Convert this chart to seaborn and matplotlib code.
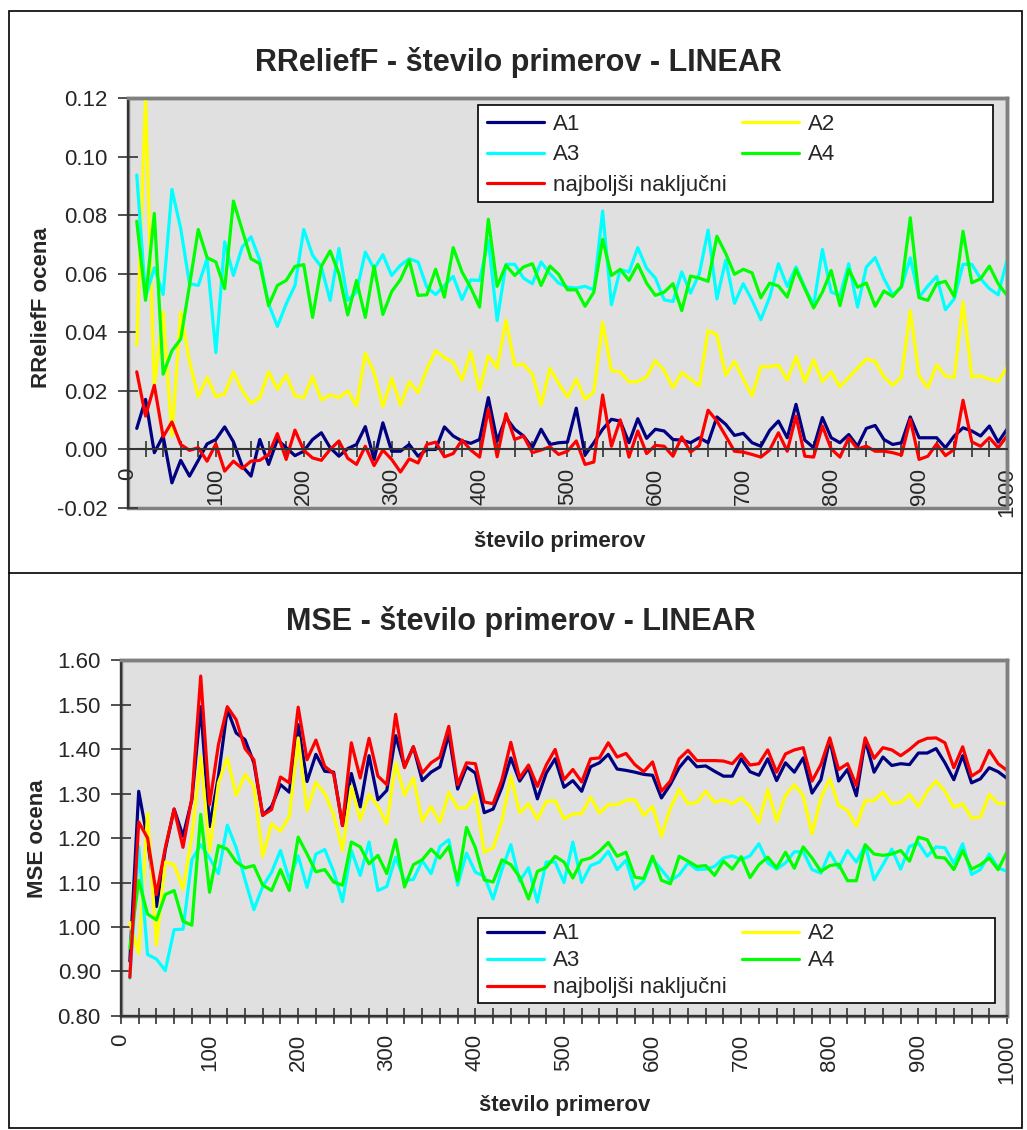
import numpy as np
import pandas as pd
import matplotlib
matplotlib.use("Agg")
import matplotlib.pyplot as plt
import seaborn as sns
from matplotlib.lines import Line2D
from matplotlib.patches import Rectangle

# sample sizes (x axis)
n_primerov = np.arange(10, 1001, 10)

names = ["A1", "A2", "A3", "A4", "najboljši naključni"]
colors = ["#000080", "#ffff00", "#00ffff", "#00ff00", "#ff0000"]

# --- RReliefF estimates ---
rr_a1 = [0.0072, 0.0171, -0.0011, 0.0046, -0.0114, -0.0037, -0.0091, -0.0037, 0.0019, 0.0034,
         0.0077, 0.0026, -0.0057, -0.0091, 0.0034, -0.0051, 0.0034, 0.0006, -0.0021, -0.0006,
         0.0034, 0.0057, 0.0006, -0.0023, 0.0003,
         0.0017, 0.0078, -0.0034, 0.0091, -0.0006, -0.0006, 0.0017, -0.0023, 0.0, 0.0,
         0.0077, 0.0046, 0.0029, 0.0021, 0.0034, 0.0177, 0.0029, 0.0109, 0.0069, 0.0046,
         0.0006, 0.0069, 0.0017, 0.0023, 0.0025,
         0.0141, -0.0019, 0.0023, 0.0069, 0.0103, 0.0097, 0.0023, 0.0105, 0.0038, 0.0069,
         0.0063, 0.0034, 0.0032, 0.0023, 0.004, 0.0023, 0.0111, 0.0086, 0.0048, 0.0055,
         0.0023, 0.0011, 0.0065, 0.0097, 0.004,
         0.0154, 0.0032, 0.0006, 0.0109, 0.004, 0.0023, 0.0051, 0.0011, 0.0072, 0.0082,
         0.0034, 0.0017, 0.0023, 0.0111, 0.004, 0.004, 0.004, 0.0006, 0.0046, 0.0074,
         0.0063, 0.0046, 0.008, 0.0025, 0.0069]
rr_a2 = [0.0357, 0.1194, 0.0217, 0.047, 0.0046, 0.047, 0.030, 0.018, 0.0246, 0.018,
         0.019, 0.0265, 0.020, 0.0158, 0.0177, 0.0265, 0.0206, 0.0254, 0.0183, 0.0177,
         0.0249, 0.0169, 0.0186, 0.0177, 0.020,
         0.0149, 0.0328, 0.0263, 0.0146, 0.0243, 0.0151, 0.0231, 0.0194, 0.0274, 0.0337,
         0.0314, 0.0297, 0.0237, 0.0334, 0.0202, 0.032, 0.0277, 0.0442, 0.0288, 0.0291,
         0.0257, 0.0151, 0.0277, 0.0226, 0.0179,
         0.024, 0.0171, 0.0197, 0.0434, 0.0269, 0.0265, 0.0231, 0.0232, 0.0248, 0.0303,
         0.0269, 0.0211, 0.0263, 0.024, 0.0217, 0.0406, 0.0391, 0.0254, 0.0301, 0.024,
         0.0183, 0.0283, 0.0282, 0.0288, 0.0237,
         0.0317, 0.0231, 0.0306, 0.0232, 0.0265, 0.0214, 0.0246, 0.0277, 0.0309, 0.0301,
         0.0248, 0.0219, 0.0248, 0.0474, 0.0251, 0.0211, 0.0289, 0.0251, 0.0246, 0.0503,
         0.0248, 0.0251, 0.024, 0.0232, 0.028]
rr_a3 = [0.0937, 0.052, 0.062, 0.0529, 0.0888, 0.0754, 0.0566, 0.056, 0.0651, 0.0331,
         0.0709, 0.0594, 0.0691, 0.0726, 0.0646, 0.0497, 0.042, 0.0497, 0.056, 0.0751,
         0.0663, 0.0623, 0.0509, 0.0686, 0.0509,
         0.0537, 0.0674, 0.0617, 0.0665, 0.0594, 0.0629, 0.0651, 0.064, 0.0554, 0.0529,
         0.056, 0.0591, 0.0512, 0.0579, 0.0577, 0.0714, 0.044, 0.0632, 0.0632, 0.0585,
         0.0566, 0.064, 0.06, 0.0568, 0.0554,
         0.0551, 0.0557, 0.0545, 0.0814, 0.0494, 0.0614, 0.0606, 0.0689, 0.0619, 0.0585,
         0.0511, 0.0505, 0.0606, 0.0534, 0.06, 0.0749, 0.0514, 0.0646, 0.0499, 0.0566,
         0.0509, 0.0443, 0.052, 0.0634, 0.0557,
         0.0623, 0.0554, 0.0491, 0.0683, 0.0537, 0.0526, 0.0634, 0.0486, 0.0623, 0.0655,
         0.0583, 0.0528, 0.0554, 0.0654, 0.052, 0.0558, 0.0591, 0.0477, 0.0514, 0.0632,
         0.0632, 0.0583, 0.0549, 0.0528, 0.0646]
rr_a4 = [0.0779, 0.0509, 0.0806, 0.0257, 0.0337, 0.0377, 0.056, 0.0751, 0.0655, 0.064,
         0.0549, 0.0848, 0.0749, 0.0651, 0.0634, 0.0491, 0.056, 0.0577, 0.0625, 0.0631,
         0.0451, 0.0625, 0.0678, 0.06, 0.0459,
         0.0577, 0.0451, 0.0626, 0.0461, 0.0539, 0.058, 0.0646, 0.0526, 0.0528, 0.0615,
         0.052, 0.0689, 0.0606, 0.0552, 0.0486, 0.0786, 0.0557, 0.0629, 0.0594, 0.0623,
         0.0634, 0.056, 0.0626, 0.0598, 0.0545,
         0.0545, 0.0489, 0.0537, 0.0717, 0.0594, 0.0615, 0.0577, 0.0632, 0.0568, 0.0526,
         0.0537, 0.0566, 0.0474, 0.0592, 0.0585, 0.0574, 0.0728, 0.0669, 0.0598, 0.0615,
         0.0603, 0.0518, 0.0568, 0.0558, 0.052,
         0.0614, 0.0549, 0.0483, 0.0537, 0.0611, 0.0491, 0.0615, 0.0554, 0.0568, 0.0489,
         0.0541, 0.0522, 0.0557, 0.0791, 0.0518, 0.0509, 0.0566, 0.0574, 0.0522, 0.0745,
         0.0569, 0.0583, 0.0626, 0.0566, 0.0526]
rr_rand = [0.0265, 0.0114, 0.0219, 0.0043, 0.0094, 0.0017, -0.0003, 0.0006, -0.004, 0.0019,
           -0.0074, -0.004, -0.0065, -0.004, -0.0037, -0.0017, 0.0054, -0.0034, 0.0066, -0.0003,
           -0.0029, -0.0037, 0.0, 0.0029, -0.003,
           -0.0051, 0.0011, -0.0055, -0.0002, -0.0034, -0.0077, -0.0032, -0.0046, 0.0017, 0.0025,
           -0.0025, -0.0014, 0.0032, -0.0002, -0.0026, 0.0139, -0.0025, 0.0122, 0.0034, 0.0046,
           -0.0011, -0.0002, 0.0009, -0.0017, -0.0006,
           0.0029, -0.0051, -0.0043, 0.0186, 0.0011, 0.0101, -0.0026, 0.0063, -0.0014, 0.0014,
           0.0011, -0.0023, 0.0043, -0.0009, 0.0014, 0.0134, 0.0097, 0.0046, -0.0006, -0.0009,
           -0.0017, -0.0026, -0.0002, 0.0057, -0.0006,
           0.0114, -0.0023, -0.0026, 0.008, 0.0002, -0.0026, 0.004, 0.0002, 0.0011, -0.0006,
           -0.0006, -0.0011, -0.0019, 0.0103, -0.0034, -0.0023, 0.0019, -0.0021, 0.0, 0.0168,
           0.0026, 0.0011, 0.004, 0.0006, 0.0046]

# --- MSE ---
mse_a1 = [0.923, 1.305, 1.196, 1.046, 1.174, 1.265, 1.204, 1.286, 1.495, 1.226,
          1.339, 1.489, 1.436, 1.421, 1.369, 1.251, 1.271, 1.320, 1.303, 1.455,
          1.327, 1.388, 1.350, 1.348, 1.228,
          1.345, 1.270, 1.385, 1.286, 1.307, 1.430, 1.360, 1.405, 1.329, 1.348,
          1.360, 1.433, 1.310, 1.360, 1.346, 1.257, 1.265, 1.314, 1.380, 1.328,
          1.358, 1.288, 1.346, 1.378, 1.314,
          1.329, 1.305, 1.360, 1.369, 1.388, 1.355, 1.352, 1.348, 1.343, 1.341,
          1.290, 1.320, 1.358, 1.382, 1.360, 1.362, 1.350, 1.339, 1.339, 1.378,
          1.349, 1.341, 1.378, 1.329, 1.369,
          1.348, 1.380, 1.301, 1.331, 1.421, 1.328, 1.354, 1.295, 1.420, 1.348,
          1.382, 1.363, 1.367, 1.365, 1.391, 1.391, 1.401, 1.369, 1.331, 1.385,
          1.324, 1.333, 1.358, 1.349, 1.334]
mse_a2 = [1.010, 0.941, 1.255, 0.960, 1.146, 1.140, 1.085, 1.204, 1.384, 1.170,
          1.324, 1.380, 1.296, 1.343, 1.316, 1.159, 1.232, 1.215, 1.249, 1.425,
          1.262, 1.325, 1.300, 1.253, 1.172,
          1.316, 1.241, 1.298, 1.271, 1.232, 1.369, 1.296, 1.335, 1.238, 1.271,
          1.235, 1.303, 1.267, 1.269, 1.298, 1.168, 1.178, 1.238, 1.339, 1.257,
          1.277, 1.242, 1.282, 1.284, 1.243,
          1.254, 1.255, 1.292, 1.256, 1.275, 1.275, 1.285, 1.286, 1.251, 1.271,
          1.204, 1.267, 1.309, 1.277, 1.280, 1.305, 1.280, 1.286, 1.277, 1.290,
          1.271, 1.235, 1.309, 1.238, 1.296,
          1.320, 1.295, 1.209, 1.290, 1.333, 1.273, 1.262, 1.227, 1.284, 1.284,
          1.303, 1.277, 1.280, 1.298, 1.271, 1.305, 1.328, 1.305, 1.269, 1.277,
          1.245, 1.247, 1.298, 1.277, 1.278]
mse_a3 = [0.885, 1.181, 0.938, 0.928, 0.902, 0.994, 0.995, 1.151, 1.185, 1.155,
          1.120, 1.229, 1.178, 1.106, 1.039, 1.091, 1.123, 1.172, 1.106, 1.160,
          1.089, 1.164, 1.174, 1.125, 1.057,
          1.172, 1.116, 1.191, 1.082, 1.091, 1.157, 1.104, 1.107, 1.149, 1.120,
          1.181, 1.196, 1.094, 1.166, 1.123, 1.114, 1.063, 1.129, 1.185, 1.103,
          1.133, 1.056, 1.146, 1.146, 1.100,
          1.191, 1.100, 1.138, 1.146, 1.170, 1.129, 1.150, 1.085, 1.104, 1.153,
          1.129, 1.104, 1.117, 1.144, 1.129, 1.130, 1.136, 1.155, 1.160, 1.151,
          1.160, 1.187, 1.144, 1.130, 1.144,
          1.169, 1.169, 1.129, 1.121, 1.168, 1.133, 1.172, 1.146, 1.184, 1.106,
          1.140, 1.175, 1.130, 1.181, 1.189, 1.159, 1.180, 1.178, 1.143, 1.187,
          1.118, 1.129, 1.164, 1.133, 1.125]
mse_a4 = [0.953, 1.105, 1.029, 1.016, 1.073, 1.082, 1.013, 1.004, 1.253, 1.078,
          1.183, 1.175, 1.146, 1.133, 1.138, 1.094, 1.082, 1.129, 1.082, 1.202,
          1.164, 1.124, 1.129, 1.101, 1.094,
          1.191, 1.180, 1.142, 1.161, 1.120, 1.196, 1.090, 1.140, 1.151, 1.175,
          1.155, 1.181, 1.104, 1.224, 1.178, 1.106, 1.101, 1.151, 1.140, 1.112,
          1.063, 1.125, 1.134, 1.159, 1.146,
          1.110, 1.150, 1.155, 1.170, 1.190, 1.159, 1.168, 1.112, 1.109, 1.159,
          1.105, 1.097, 1.159, 1.148, 1.136, 1.138, 1.116, 1.148, 1.130, 1.158,
          1.111, 1.140, 1.157, 1.133, 1.168,
          1.132, 1.180, 1.155, 1.125, 1.138, 1.141, 1.104, 1.104, 1.185, 1.164,
          1.161, 1.164, 1.172, 1.148, 1.202, 1.196, 1.157, 1.155, 1.129, 1.172,
          1.130, 1.140, 1.155, 1.129, 1.169]
mse_rand = [0.887, 1.236, 1.200, 1.073, 1.178, 1.265, 1.179, 1.290, 1.564, 1.275,
            1.410, 1.495, 1.466, 1.401, 1.376, 1.251, 1.264, 1.337, 1.324, 1.494,
            1.376, 1.420, 1.361, 1.345, 1.228,
            1.414, 1.335, 1.424, 1.339, 1.320, 1.478, 1.358, 1.405, 1.346, 1.369,
            1.382, 1.451, 1.320, 1.369, 1.367, 1.281, 1.277, 1.331, 1.415, 1.335,
            1.364, 1.316, 1.364, 1.399, 1.331,
            1.354, 1.326, 1.378, 1.380, 1.414, 1.382, 1.390, 1.365, 1.349, 1.371,
            1.305, 1.328, 1.378, 1.397, 1.374, 1.374, 1.374, 1.373, 1.367, 1.389,
            1.364, 1.367, 1.398, 1.348, 1.389,
            1.398, 1.403, 1.328, 1.365, 1.425, 1.354, 1.367, 1.318, 1.425, 1.379,
            1.403, 1.398, 1.385, 1.399, 1.416, 1.424, 1.425, 1.414, 1.358, 1.405,
            1.339, 1.352, 1.397, 1.367, 1.352]

sns.set_style("white")
plt.rcParams["font.family"] = ["Liberation Sans", "DejaVu Sans"]

fig = plt.figure(figsize=(10.27, 11.30), dpi=100)
ax1 = fig.add_axes([0.1246, 0.5504, 0.8559, 0.3629])
ax2 = fig.add_axes([0.1178, 0.1009, 0.8627, 0.3150])


def draw(ax, series, ylim, yticks, yfmt):
    df = pd.DataFrame({"n": n_primerov})
    for name, vals in zip(names, series):
        df[name] = vals
    df = df.melt(id_vars="n", var_name="serija", value_name="ocena")
    ax.set_facecolor("#e0e0e0")
    sns.lineplot(data=df, x="n", y="ocena", hue="serija", hue_order=names,
                 palette=colors, linewidth=2.3, ax=ax, legend=False)
    ax.set_xlim(0, 1000)
    ax.set_ylim(*ylim)
    ax.set_xticks(np.arange(0, 1001, 100))
    ax.set_xticks(np.arange(0, 1001, 20), minor=True)
    ax.set_yticks(yticks)
    ax.set_yticklabels([yfmt.format(v) for v in yticks])
    ax.tick_params(axis="x", which="both", direction="inout", length=12, width=1.2,
                   color="#333333", labelsize=16, labelrotation=90, pad=7, bottom=True)
    ax.tick_params(axis="y", which="both", direction="inout", length=15, width=1.2,
                   color="#333333", labelsize=16, pad=7, left=True)
    ax.set_xlabel("")
    ax.set_ylabel("")
    for s in ["top", "right"]:
        ax.spines[s].set_color("#808080")
        ax.spines[s].set_linewidth(2.5)
    ax.spines["left"].set_color("#333333")
    ax.spines["left"].set_linewidth(1.5)
    ax.spines["bottom"].set_color("#333333")
    ax.spines["bottom"].set_linewidth(1.5)
    ax.add_patch(Rectangle((0, 0), 1, 1, transform=ax.transAxes, fill=False,
                           edgecolor="#808080", linewidth=2.5, zorder=0.5, clip_on=False))


draw(ax1, [rr_a1, rr_a2, rr_a3, rr_a4, rr_rand], (-0.02, 0.12),
     np.arange(-0.02, 0.121, 0.02), "{:.2f}")
ax1.spines["bottom"].set_position(("data", 0))

draw(ax2, [mse_a1, mse_a2, mse_a3, mse_a4, mse_rand], (0.80, 1.60),
     np.arange(0.80, 1.601, 0.10), "{:.2f}")

# legends: two columns, A1/A2, A3/A4, random; frame drawn separately
order = [0, 2, 4, 1, 3]
handles = [Line2D([0], [0], color=colors[i], lw=2.3) for i in order]
labels = [names[i] for i in order]
for ax, box, yc, sp in [(ax1, (0.398, 0.746, 0.586, 0.237), 0.861, 0.42),
                        (ax2, (0.403, 0.037, 0.583, 0.238), 0.1545, 0.27)]:
    ax.add_patch(Rectangle(box[:2], box[2], box[3], transform=ax.transAxes,
                           facecolor="white", edgecolor="black", linewidth=1.2,
                           zorder=4.5))
    ax.legend(handles, labels, ncol=2, loc="center left", bbox_to_anchor=(box[0], yc),
              fontsize=16, frameon=False, handlelength=2.57, handletextpad=0.4,
              columnspacing=0.7, labelspacing=sp, borderaxespad=0, borderpad=0.4)

# titles and axis labels
fig.text(0.505, 0.945, "RReliefF - število primerov - LINEAR", ha="center", va="center",
         fontsize=22, fontweight="bold")
fig.text(0.545, 0.521, "število primerov", ha="center", va="center",
         fontsize=16, fontweight="bold")
fig.text(0.040, 0.728, "RReliefF ocena", ha="center", va="center", rotation=90,
         fontsize=16, fontweight="bold")

fig.text(0.507, 0.4496, "MSE - število primerov - LINEAR", ha="center", va="center",
         fontsize=22, fontweight="bold")
fig.text(0.550, 0.022, "število primerov", ha="center", va="center",
         fontsize=16, fontweight="bold")
fig.text(0.037, 0.258, "MSE ocena", ha="center", va="center", rotation=90,
         fontsize=16, fontweight="bold")

# outer frames of the two chart boxes
fig.add_artist(Rectangle((0.0088, 0.0018), 0.986, 0.9885, transform=fig.transFigure,
                         fill=False, edgecolor="black", linewidth=1.2))
fig.add_artist(Line2D([0.0088, 0.9948], [0.4929, 0.4929], transform=fig.transFigure,
                      color="black", linewidth=1.2))

fig.savefig("out.png", dpi=100, facecolor="white")
